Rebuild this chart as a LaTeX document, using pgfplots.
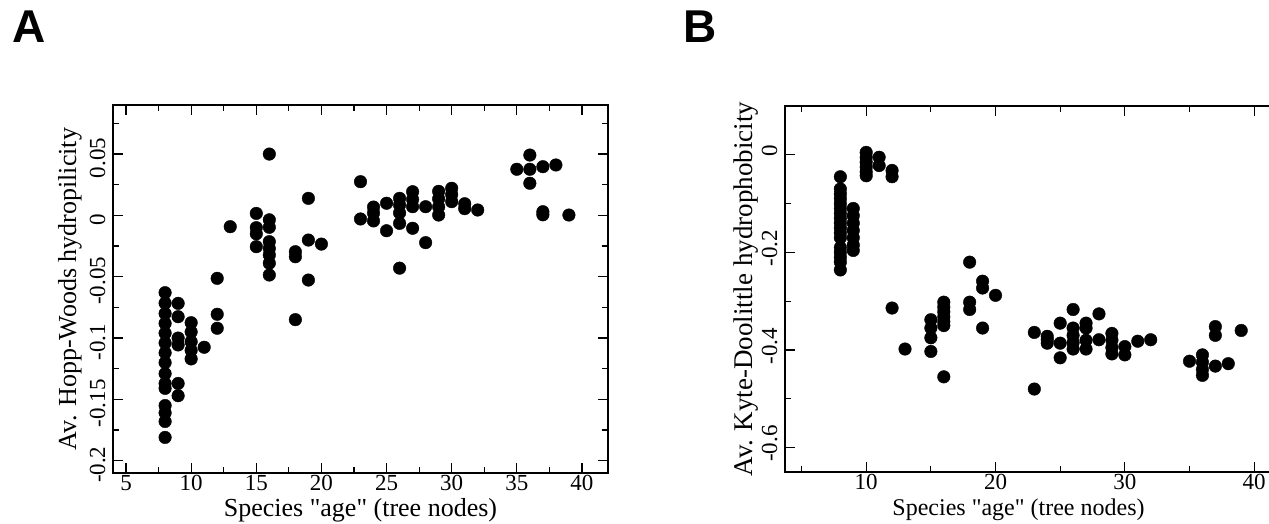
\documentclass[border=0pt]{standalone}
\usepackage{fontspec}
\setmainfont{Liberation Serif}
\newfontfamily\arial{Liberation Sans}
\usepackage{pgfplots}
\pgfplotsset{compat=1.18}
\usepackage{pgfplotstable}

\pgfplotstableread{
x y
8 -0.063
8 -0.0715
8 -0.080
8 -0.088
8 -0.096
8 -0.104
8 -0.112
8 -0.120
8 -0.129
8 -0.137
8 -0.141
8 -0.155
8 -0.161
8 -0.168
8 -0.181
9 -0.0717
9 -0.0826
9 -0.100
9 -0.1056
9 -0.137
9 -0.147
10 -0.0875
10 -0.095
10 -0.103
10 -0.110
10 -0.117
11 -0.1075
12 -0.0513
12 -0.0806
12 -0.092
13 -0.0092
15 0.0016
15 -0.010
15 -0.015
15 -0.0255
16 0.050
16 -0.0036
16 -0.0097
16 -0.0214
16 -0.027
16 -0.0323
16 -0.039
16 -0.0486
18 -0.0296
18 -0.0337
18 -0.085
19 0.0139
19 -0.0201
19 -0.0527
20 -0.0234
23 0.0275
23 -0.0029
24 0.0068
24 0.0019
24 -0.0045
25 0.0099
25 -0.0125
26 0.0139
26 0.0085
26 0.002
26 -0.0065
26 -0.043
27 0.0193
27 0.013
27 0.0071
27 -0.0105
28 0.0071
28 -0.0222
29 0.0196
29 0.0135
29 0.007
29 0.0003
30 0.0221
30 0.017
30 0.0112
31 0.0095
31 0.0055
32 0.0044
35 0.0376
36 0.0492
36 0.0376
36 0.0262
37 0.0397
37 0.003
37 0.0005
38 0.0411
39 0.0003
}\dataA

\pgfplotstableread{
x y
8 -0.045
8 -0.070
8 -0.080
8 -0.090
8 -0.100
8 -0.110
8 -0.120
8 -0.130
8 -0.140
8 -0.150
8 -0.160
8 -0.170
8 -0.190
8 -0.200
8 -0.210
8 -0.220
8 -0.236
9 -0.110
9 -0.125
9 -0.140
9 -0.155
9 -0.170
9 -0.185
9 -0.196
10 0.005
10 -0.005
10 -0.015
10 -0.025
10 -0.035
10 -0.043
11 -0.005
11 -0.022
12 -0.032
12 -0.045
12 -0.314
13 -0.398
15 -0.338
15 -0.355
15 -0.375
15 -0.403
16 -0.302
16 -0.312
16 -0.322
16 -0.332
16 -0.342
16 -0.350
16 -0.455
18 -0.220
18 -0.302
18 -0.317
19 -0.259
19 -0.273
19 -0.355
20 -0.288
23 -0.364
23 -0.480
24 -0.372
24 -0.379
24 -0.386
25 -0.345
25 -0.386
25 -0.416
26 -0.317
26 -0.355
26 -0.370
26 -0.385
26 -0.398
27 -0.345
27 -0.355
27 -0.380
27 -0.398
28 -0.326
28 -0.379
29 -0.366
29 -0.380
29 -0.395
29 -0.408
30 -0.393
30 -0.410
31 -0.382
32 -0.379
35 -0.423
36 -0.410
36 -0.425
36 -0.440
36 -0.452
37 -0.352
37 -0.370
37 -0.433
38 -0.428
39 -0.360
}\dataB

\pgfplotsset{
  myaxis/.style={
    scale only axis,
    tick align=inside,
    major tick length=10pt,
    minor tick length=6pt,
    axis line style={line width=1.6pt},
    every tick/.style={line width=1.2pt, black},
    tick label style={font=\fontsize{23}{23}\selectfont},
    xticklabel style={yshift=1pt},
    yticklabel style={xshift=-8pt, rotate=90, anchor=base},
    every axis x label/.style={at={(axis description cs:0.5,0)}, anchor=base, yshift=-44pt, font=\fontsize{26}{26}\selectfont},
    xlabel={Species \textquotedbl age\textquotedbl\ (tree nodes)},
  },
}

\begin{document}
\begin{tikzpicture}
\path[use as bounding box] (0,0) rectangle (1269pt,524pt);
\clip (0,0) rectangle (1269pt,524pt);

\node[anchor=base west, inner sep=0pt, font=\arial\bfseries\fontsize{46}{46}\selectfont] at (12pt,481pt) {A};
\node[anchor=base west, inner sep=0pt, font=\arial\bfseries\fontsize{46}{46}\selectfont] at (683pt,481pt) {B};

\begin{axis}[myaxis,
  at={(113pt,51pt)}, anchor=south west,
  width=495pt, height=368pt,
  xmin=4, xmax=42, ymin=-0.21, ymax=0.09,
  xtick={5,10,15,20,25,30,35,40},
  xticklabels={5,10,15,20,25,30,35,40},
  minor xtick={7.5,12.5,17.5,22.5,27.5,32.5,37.5},
  ytick={-0.2,-0.15,-0.1,-0.05,0,0.05},
  yticklabels={-0.2,-0.15,-0.1,-0.05,0,0.05},
  minor ytick={-0.175,-0.125,-0.075,-0.025,0.025,0.075},
  yticklabel style={xshift=-4pt},
  every axis y label/.style={at={(axis description cs:0,0.5)}, anchor=base, xshift=-37pt, rotate=90, font=\fontsize{26}{26}\selectfont},
  ylabel={Av. Hopp-Woods hydropilicity},
]
\addplot[only marks, mark=*, mark size=6.3pt, black] table[x=x, y=y] {\dataA};
\end{axis}

\begin{axis}[myaxis,
  at={(785pt,52pt)}, anchor=south west,
  width=495pt, height=366pt,
  xmin=3.72, xmax=42, ymin=-0.65, ymax=0.1,
  xtick={10,20,30,40},
  xticklabels={10,20,30,40},
  minor xtick={5,15,25,35},
  ytick={-0.6,-0.4,-0.2,0},
  yticklabels={-0.6,-0.4,-0.2,0},
  minor ytick={-0.5,-0.3,-0.1},
  yticklabel style={xshift=4pt},
  every axis x label/.style={at={(axis description cs:0.5,0)}, anchor=base, yshift=-44pt, xshift=-14pt, font=\fontsize{24}{24}\selectfont},
  every axis y label/.style={at={(axis description cs:0,0.5)}, anchor=base, xshift=-33pt, rotate=90, font=\fontsize{27}{27}\selectfont},
  ylabel={Av. Kyte-Doolittle hydrophobicity},
]
\addplot[only marks, mark=*, mark size=6.3pt, black] table[x=x, y=y] {\dataB};
\end{axis}
\end{tikzpicture}
\end{document}
